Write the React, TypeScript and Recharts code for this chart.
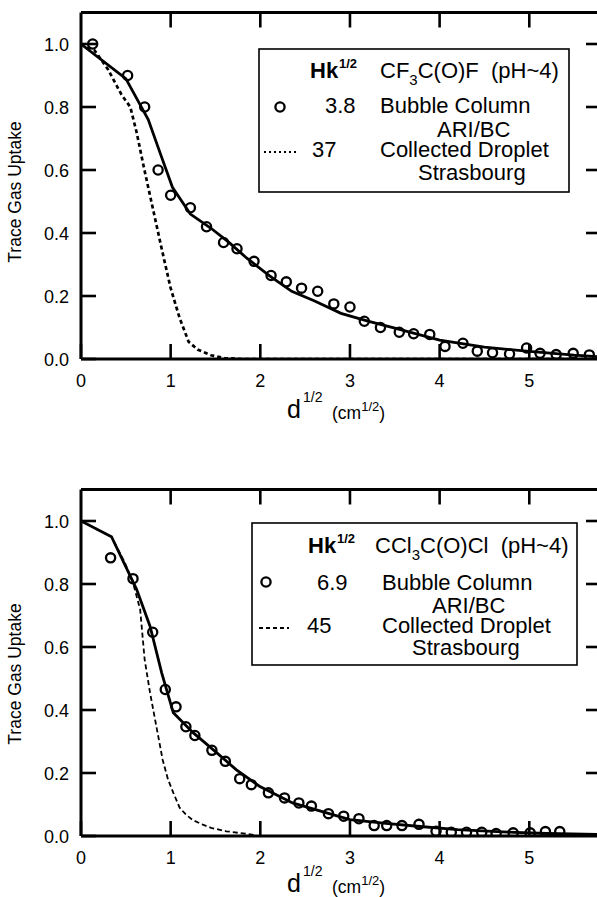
import React from 'react';
import { ComposedChart, Line, Scatter, XAxis, YAxis, ReferenceLine } from 'recharts';

// ---------- axes ----------
const xTicks = [0, 1, 2, 3, 4, 5];
const yTicks = [0, 0.2, 0.4, 0.6, 0.8, 1.0];
const xDomain = [0, 5.8];
const yDomain = [0, 1.1];

// ---------- top panel: CF3C(O)F ----------
const topCircleX = [0.13, 0.52, 0.71, 0.86, 1.0, 1.22, 1.4, 1.59, 1.74, 1.93, 2.12, 2.29, 2.46, 2.64, 2.82, 3.0, 3.16, 3.34, 3.55, 3.71, 3.89, 4.06, 4.26, 4.42, 4.59, 4.78, 4.97, 5.12, 5.3, 5.49, 5.67];
const topCircleY = [1.0, 0.9, 0.8, 0.6, 0.52, 0.48, 0.42, 0.37, 0.35, 0.31, 0.265, 0.245, 0.225, 0.215, 0.175, 0.165, 0.12, 0.1, 0.085, 0.08, 0.078, 0.04, 0.05, 0.025, 0.02, 0.016, 0.035, 0.018, 0.014, 0.018, 0.013];
const topSolidX = [0, 0.5, 0.75, 0.9, 1.02, 1.22, 1.45, 1.65, 1.85, 2.1, 2.35, 2.6, 2.9, 3.2, 3.5, 4.0, 4.5, 5.0, 5.5, 5.8];
const topSolidY = [1.0, 0.89, 0.76, 0.64, 0.545, 0.46, 0.415, 0.37, 0.32, 0.265, 0.215, 0.185, 0.145, 0.12, 0.098, 0.06, 0.038, 0.024, 0.012, 0.007];
const topDotX = [0, 0.15, 0.3, 0.45, 0.55, 0.62, 0.7, 0.8, 0.9, 1.0, 1.1, 1.2, 1.3, 1.45, 1.6, 1.8, 5.8];
const topDotY = [1.0, 0.98, 0.92, 0.84, 0.8, 0.72, 0.61, 0.48, 0.35, 0.225, 0.13, 0.055, 0.03, 0.012, 0.003, 0, 0];

// ---------- bottom panel: CCl3C(O)Cl ----------
const botCircleX = [0.33, 0.58, 0.8, 0.94, 1.06, 1.17, 1.27, 1.46, 1.61, 1.77, 1.9, 2.09, 2.27, 2.43, 2.57, 2.76, 2.93, 3.1, 3.27, 3.41, 3.58, 3.77, 3.96, 4.13, 4.3, 4.47, 4.63, 4.82, 5.01, 5.18, 5.34];
const botCircleY = [0.883, 0.817, 0.647, 0.465, 0.41, 0.347, 0.319, 0.272, 0.237, 0.182, 0.163, 0.137, 0.121, 0.105, 0.095, 0.071, 0.063, 0.055, 0.033, 0.033, 0.033, 0.037, 0.015, 0.012, 0.012, 0.012, 0.008, 0.01, 0.01, 0.014, 0.014];
const botSolidX = [0, 0.34, 0.62, 0.77, 0.9, 1.03, 1.25, 1.47, 1.73, 1.99, 2.36, 2.73, 3.0, 3.4, 3.75, 4.2, 4.7, 5.2, 5.8];
const botSolidY = [1.0, 0.95, 0.783, 0.666, 0.518, 0.391, 0.328, 0.275, 0.211, 0.158, 0.105, 0.074, 0.052, 0.04, 0.031, 0.02, 0.013, 0.008, 0.005];
const botDashX = [0, 0.34, 0.49, 0.58, 0.66, 0.71, 0.77, 0.84, 0.91, 0.97, 1.03, 1.1, 1.17, 1.25, 1.36, 1.45, 1.62, 1.84, 1.95];
const botDashY = [1.0, 0.95, 0.867, 0.804, 0.719, 0.56, 0.455, 0.349, 0.243, 0.18, 0.137, 0.09, 0.068, 0.05, 0.036, 0.026, 0.015, 0.007, 0.003];

const zip = (xs: number[], ys: number[]) => xs.map((x, i) => ({ x, y: ys[i] }));

// ---------- layout ----------
const W = 605;
const H = 440;
const TOP = 12.5;
const LEFT = 81;
const XAX_H = 81;
const RIGHT = 4;
const TICK = 15;
const PLOT_W = W - LEFT - RIGHT;
const PLOT_H = H - TOP - XAX_H;
// tick length expressed in data units (from layout constants)
const TICK_DX = (TICK / PLOT_W) * (xDomain[1] - xDomain[0]);
const TICK_DY = (TICK / PLOT_H) * (yDomain[1] - yDomain[0]);
const FONT = '"Liberation Sans", Arial, Helvetica, sans-serif';
const INK = '#000';
const tickLineStyle = { stroke: INK, strokeWidth: 2.6 };
const frameStyle = { stroke: INK, strokeWidth: 3 };

const XTick = (props: any) => {
  const { x, y, payload } = props;
  return (
    <text x={x} y={y + 28} textAnchor="middle" fontSize={18} fontFamily={FONT} fill={INK}>
      {String(payload.value)}
    </text>
  );
};

const YTick = (props: any) => {
  const { x, y, payload } = props;
  return (
    <text x={x - 12} y={y + 6.5} textAnchor="end" fontSize={18} fontFamily={FONT} fill={INK}>
      {Number(payload.value).toFixed(1)}
    </text>
  );
};

const circleShape = (p: any) => (
  <circle cx={p.cx} cy={p.cy} r={4.6} fill="none" stroke={INK} strokeWidth={2.3} />
);

type LegendSpec = {
  box: [number, number, number, number];
  hkX: number;
  row1Y: number;
  nameX: number;
  namePre: string;
  namePost: string;
  markX: number;
  markY: number;
  v1X: number;
  v1: string;
  row2Y: number;
  textX: number;
  ariX: number;
  ariY: number;
  dashX1: number;
  dashX2: number;
  dashY: number;
  v2X: number;
  v2: string;
  row4Y: number;
  strasX: number;
  strasY: number;
  legendDash: string;
  legendDashWidth: number;
};

// inward ticks on the top and right frame edges (mirrors of the bottom/left axis ticks)
function mirrorTicks() {
  const out: any[] = [];
  xTicks.filter((t) => t > xDomain[0]).forEach((t) => {
    out.push(
      <ReferenceLine
        key={`xt${t}`}
        segment={[{ x: t, y: yDomain[1] }, { x: t, y: yDomain[1] - TICK_DY }]}
        stroke={INK}
        strokeWidth={2.6}
        ifOverflow="visible"
      />
    );
  });
  yTicks.filter((t) => t > yDomain[0]).forEach((t) => {
    out.push(
      <ReferenceLine
        key={`yr${t}`}
        segment={[{ x: xDomain[1], y: t }, { x: xDomain[1] - TICK_DX, y: t }]}
        stroke={INK}
        strokeWidth={2.6}
        ifOverflow="visible"
      />
    );
  });
  return out;
}

function Panel(props: {
  offsetY: number;
  titleY: number;
  xTitleY: number;
  circles: { x: number; y: number }[];
  solid: { x: number; y: number }[];
  broken: { x: number; y: number }[];
  dash: string;
  dashWidth: number;
  legend: LegendSpec;
}) {
  const { offsetY, titleY, xTitleY, circles, solid, broken, dash, dashWidth, legend: L } = props;
  const txt = { fontFamily: FONT, fill: INK } as any;
  return (
    <div style={{ position: 'absolute', left: 0, top: offsetY, width: W, height: H }}>
      <ComposedChart width={W} height={H} margin={{ top: TOP, right: RIGHT, left: 0, bottom: 0 }}>
        <XAxis
          type="number"
          dataKey="x"
          domain={xDomain}
          ticks={xTicks}
          interval={0}
          allowDataOverflow
          height={XAX_H}
          tickSize={-TICK}
          tickMargin={TICK}
          tickLine={tickLineStyle}
          axisLine={frameStyle}
          tick={<XTick />}
        />
        <YAxis
          type="number"
          dataKey="y"
          domain={yDomain}
          ticks={yTicks}
          interval={0}
          allowDataOverflow
          width={LEFT}
          tickSize={-TICK}
          tickMargin={TICK}
          tickLine={tickLineStyle}
          axisLine={frameStyle}
          tick={<YTick />}
        />
        <ReferenceLine y={yDomain[1]} stroke={INK} strokeWidth={3} ifOverflow="visible" />
        <ReferenceLine x={xDomain[1]} stroke={INK} strokeWidth={3} ifOverflow="visible" />
        {mirrorTicks()}
        <Line
          data={broken}
          dataKey="y"
          type="linear"
          stroke={INK}
          strokeWidth={dashWidth}
          strokeDasharray={dash}
          dot={false}
          activeDot={false}
          isAnimationActive={false}
        />
        <Line
          data={solid}
          dataKey="y"
          type="linear"
          stroke={INK}
          strokeWidth={2.8}
          dot={false}
          activeDot={false}
          isAnimationActive={false}
        />
        <Scatter data={circles} dataKey="y" shape={circleShape} isAnimationActive={false} />
      </ComposedChart>
      <svg
        width={W}
        height={H}
        style={{ position: 'absolute', left: 0, top: 0, pointerEvents: 'none', overflow: 'visible' }}
      >
        <text transform={`translate(21, ${titleY}) rotate(-90)`} textAnchor="middle" fontSize={17.5} {...txt}>
          Trace Gas Uptake
        </text>
        <text x={287} y={xTitleY} fontSize={25} {...txt}>d</text>
        <text x={303} y={xTitleY - 16} fontSize={14} {...txt}>1/2</text>
        <text x={332} y={xTitleY + 1} fontSize={17.5} {...txt}>
          (cm
          <tspan dy={-8} fontSize={13}>1/2</tspan>
          <tspan dy={8}>)</tspan>
        </text>

        <rect x={L.box[0]} y={L.box[1]} width={L.box[2]} height={L.box[3]} fill="none" stroke={INK} strokeWidth={1.6} />
        <text x={L.hkX} y={L.row1Y} fontSize={22} fontWeight="bold" {...txt}>Hk</text>
        <text x={L.hkX + 29} y={L.row1Y - 10} fontSize={13} fontWeight="bold" {...txt}>1/2</text>
        <text x={L.nameX} y={L.row1Y} fontSize={22} {...txt}>
          {L.namePre}
          <tspan dy={7} fontSize={15}>3</tspan>
          <tspan dy={-7}>{L.namePost}</tspan>
        </text>
        <circle cx={L.markX} cy={L.markY} r={4.6} fill="none" stroke={INK} strokeWidth={2.3} />
        <text x={L.v1X} y={L.row2Y} fontSize={22} {...txt}>{L.v1}</text>
        <text x={L.textX} y={L.row2Y} fontSize={22} {...txt}>Bubble Column</text>
        <text x={L.ariX} y={L.ariY} fontSize={22} {...txt}>ARI/BC</text>
        <line x1={L.dashX1} y1={L.dashY} x2={L.dashX2} y2={L.dashY} stroke={INK} strokeWidth={L.legendDashWidth} strokeDasharray={L.legendDash} />
        <text x={L.v2X} y={L.row4Y} fontSize={22} {...txt}>{L.v2}</text>
        <text x={L.textX} y={L.row4Y} fontSize={22} {...txt}>Collected Droplet</text>
        <text x={L.strasX} y={L.strasY} fontSize={22} {...txt}>Strasbourg</text>
      </svg>
    </div>
  );
}

const topLegend: LegendSpec = {
  box: [259, 49, 310, 143],
  hkX: 310,
  row1Y: 78,
  nameX: 380,
  namePre: 'CF',
  namePost: 'C(O)F\u00A0\u00A0(pH~4)',
  markX: 280,
  markY: 107,
  v1X: 325,
  v1: '3.8',
  row2Y: 113,
  textX: 380,
  ariX: 437,
  ariY: 137,
  dashX1: 264,
  dashX2: 297,
  dashY: 152,
  v2X: 312,
  v2: '37',
  row4Y: 157,
  strasX: 418,
  strasY: 180,
  legendDash: '2 3',
  legendDashWidth: 2,
};

const botLegend: LegendSpec = {
  box: [252, 46, 325, 142],
  hkX: 308,
  row1Y: 76,
  nameX: 375,
  namePre: 'CCl',
  namePost: 'C(O)Cl\u00A0\u00A0(pH~4)',
  markX: 266,
  markY: 105,
  v1X: 317,
  v1: '6.9',
  row2Y: 113,
  textX: 382,
  ariX: 432,
  ariY: 136,
  dashX1: 259,
  dashX2: 289,
  dashY: 151,
  v2X: 307,
  v2: '45',
  row4Y: 156,
  strasX: 412,
  strasY: 178,
  legendDash: '4 3',
  legendDashWidth: 1.8,
};

export default function App() {
  return (
    <div style={{ position: 'absolute', left: 0, top: 0, width: 597, height: 897, overflow: 'hidden', background: '#fff' }}>
      <Panel
        offsetY={0}
        titleY={192}
        xTitleY={418}
        circles={zip(topCircleX, topCircleY)}
        solid={zip(topSolidX, topSolidY)}
        broken={zip(topDotX, topDotY)}
        dash="4 3"
        dashWidth={2.7}
        legend={topLegend}
      />
      <Panel
        offsetY={477}
        titleY={197}
        xTitleY={415}
        circles={zip(botCircleX, botCircleY)}
        solid={zip(botSolidX, botSolidY)}
        broken={zip(botDashX, botDashY)}
        dash="5 3"
        dashWidth={1.8}
        legend={botLegend}
      />
    </div>
  );
}
